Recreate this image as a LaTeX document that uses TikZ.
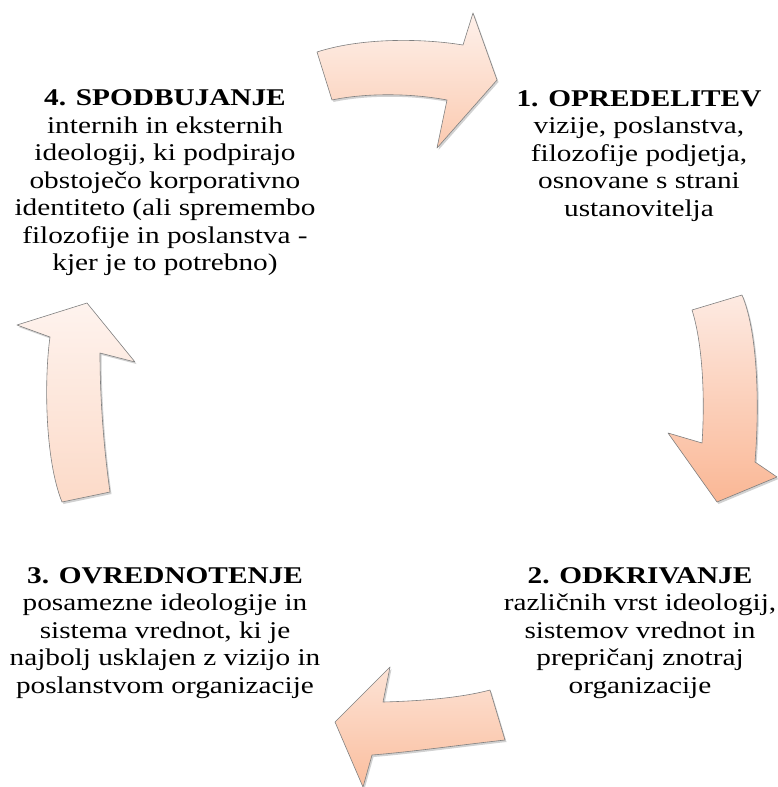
\documentclass[tikz,border=0pt]{standalone}
\usepackage{fontspec}
\setmainfont{Liberation Serif}[FakeStretch=1.22]
\begin{document}
\begin{tikzpicture}[x=1pt,y=-1pt,
  arr/.style={draw=black!50, line width=0.6pt, line join=round},
  shad/.style={fill=black, fill opacity=0.18, draw=none},
  lbl/.style={align=center, inner sep=0pt, font=\fontsize{24}{27.5}\selectfont},
  hd/.style={font=\bfseries}
]
\useasboundingbox (0,0) rectangle (778,787);
\fill[white] (0,0) rectangle (778,787);

% paths
\def\toparrow{(317,52) .. controls (360,38) and (420,38) .. (463,45) -- (473,13) -- (497,80) -- (437,148) -- (447,100) .. controls (410,93) and (365,93) .. (332,100) -- cycle}
\def\rightarrow{(692,310) -- (742,295) .. controls (757,330) and (760,400) .. (755,462) -- (777,477) -- (717,502) -- (668,433) -- (702,443) .. controls (705,400) and (703,345) .. (692,310) -- cycle}
\def\bottomarrow{(490,690) -- (505,740) .. controls (460,745) and (410,752) .. (372,755) -- (363,787) -- (335,722) -- (390,667) -- (383,702) .. controls (420,701) and (460,698) .. (490,690) -- cycle}
\def\leftarrow{(62,502) -- (110,492) .. controls (104,450) and (100,400) .. (100,353) -- (135,362) -- (87,303) -- (17,325) -- (50,337) .. controls (44,380) and (45,460) .. (62,502) -- cycle}

\begin{scope}[shift={(1.5,2)}]
  \fill[shad] \toparrow;
  \fill[shad] \rightarrow;
  \fill[shad] \bottomarrow;
  \fill[shad] \leftarrow;
\end{scope}
\shade[top color={rgb,255:red,254;green,241;blue,235}, bottom color={rgb,255:red,251;green,202;blue,176}] \toparrow;
\draw[arr] \toparrow;
\shade[top color={rgb,255:red,253;green,234;blue,226}, bottom color={rgb,255:red,250;green,183;blue,149}] \rightarrow;
\draw[arr] \rightarrow;
\shade[top color={rgb,255:red,252;green,227;blue,214}, bottom color={rgb,255:red,251;green,190;blue,158}] \bottomarrow;
\draw[arr] \bottomarrow;
\shade[top color={rgb,255:red,254;green,243;blue,238}, bottom color={rgb,255:red,252;green,218;blue,200}] \leftarrow;
\draw[arr] \leftarrow;

\node[lbl] (n1) at (639,156) {{\bfseries 1. OPREDELITEV}\\vizije, poslanstva,\\filozofije podjetja,\\osnovane s strani\\ustanovitelja};
\node[lbl] (n2) at (640,633) {{\bfseries 2. ODKRIVANJE}\\različnih vrst ideologij,\\sistemov vrednot in\\prepričanj znotraj\\organizacije};
\node[lbl] (n3) at (165,633) {{\bfseries 3. OVREDNOTENJE}\\posamezne ideologije in\\sistema vrednot, ki je\\najbolj usklajen z vizijo in\\poslanstvom organizacije};
\node[lbl] (n4) at (165,183) {{\bfseries 4. SPODBUJANJE}\\internih in eksternih\\ideologij, ki podpirajo\\obstoječo korporativno\\identiteto (ali spremembo\\filozofije in poslanstva -\\kjer je to potrebno)};
\end{tikzpicture}
\end{document}
